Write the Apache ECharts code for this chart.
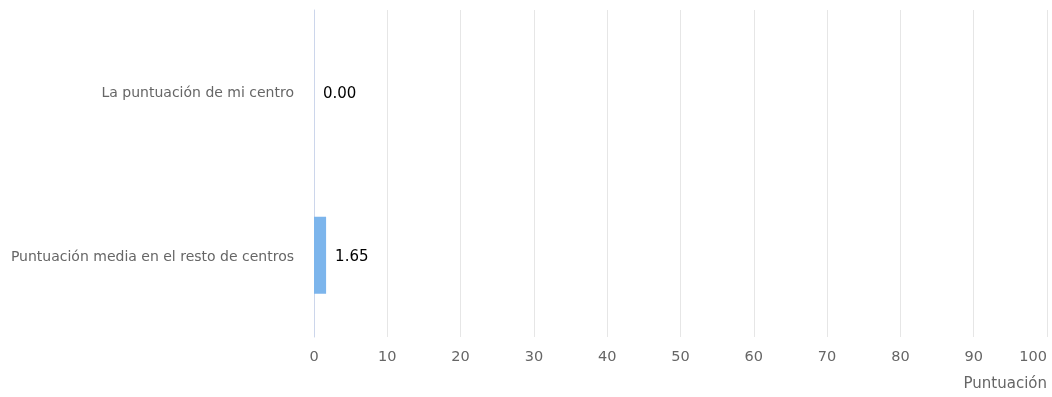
<!DOCTYPE html>
<html>
<head>
<meta charset="utf-8">
<style>
  html, body { margin: 0; padding: 0; background: #fff; }
  #chart { width: 1052px; height: 397px; }
</style>
<script src="https://cdn.jsdelivr.net/npm/echarts@6/dist/echarts.min.js"></script>
</head>
<body>
<div id="chart"></div>
<script>
// --- datos ---
const categories = ['La puntuación de mi centro', 'Puntuación media en el resto de centros'];
const scores = [0.00, 1.65];
const axisName = 'Puntuación';

const chart = echarts.init(document.getElementById('chart'));

chart.setOption({
    animation: false,
    textStyle: { fontFamily: 'DejaVu Sans' },
    grid: { left: 314, right: 5, top: 10, bottom: 60, outerBoundsMode: 'none', containLabel: false },
    xAxis: {
        type: 'value',
        min: 0,
        max: 100,
        interval: 10,
        name: axisName,
        nameLocation: 'end',
        nameGap: 0,
        nameTextStyle: {
            color: '#666', fontSize: 15, align: 'right', verticalAlign: 'top',
            padding: [40, 0, 0, 0]
        },
        axisLine: { show: false },
        axisTick: { show: false },
        axisLabel: { color: '#666', fontSize: 14.5, margin: 13, alignMaxLabel: 'right' },
        splitLine: { lineStyle: { color: '#e6e6e6', width: 1 } }
    },
    yAxis: {
        type: 'category',
        inverse: true,
        data: categories,
        axisLine: { lineStyle: { color: '#ccd6eb' } },
        axisTick: { show: false },
        axisLabel: { color: '#666', fontSize: 14, margin: 20, verticalAlign: 'top', lineHeight: 4 }
    },
    series: [{
        type: 'bar',
        data: scores,
        barWidth: 77,
        itemStyle: { color: '#7cb5ec' },
        label: {
            show: true,
            position: 'right',
            distance: 9,
            color: '#000',
            fontSize: 15,
            verticalAlign: 'top',
            lineHeight: 4,
            formatter: p => p.value.toFixed(2)
        }
    }]
});
</script>
</body>
</html>
